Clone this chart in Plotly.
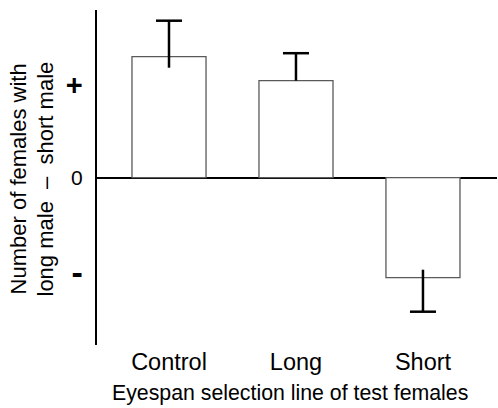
import plotly.graph_objects as go

# Data (arbitrary units)
categories = ["Control", "Long", "Short"]
values = [12.1, 9.7, -10.0]
err_outer = [3.6, 2.75, 3.4]   # error bar extent beyond bar end
err_inner = [1.1, 0.0, 0.8]    # stem extent drawn inside the bar
tick_vals = [8.97, 0, -9.93]
tick_text = ['<span style="font-size:29px"><b>+</b></span>', "0",
             '<span style="font-size:34px"><b>-</b></span>']

FONT = "Liberation Sans, Arial, sans-serif"

xs = list(range(len(categories)))

fig = go.Figure()
fig.add_trace(go.Bar(
    x=xs, y=values, width=0.583,
    marker=dict(color="white", line=dict(color="rgb(90,90,90)", width=1.3)),
    showlegend=False, hoverinfo="skip",
))

stem_x, stem_y, cap_x, cap_y = [], [], [], []
for x, v, eo, ei in zip(xs, values, err_outer, err_inner):
    s = 1 if v >= 0 else -1
    stem_x += [x, x, None]
    stem_y += [v - s * ei, v + s * eo, None]
    cap_x.append(x)
    cap_y.append(v + s * eo)

fig.add_trace(go.Scatter(
    x=stem_x, y=stem_y, mode="lines",
    line=dict(color="black", width=2.5),
    showlegend=False, hoverinfo="skip",
))
fig.add_trace(go.Scatter(
    x=cap_x, y=cap_y, mode="markers",
    marker=dict(symbol="line-ew", size=18.6, line=dict(color="black", width=2.5)),
    showlegend=False, hoverinfo="skip",
))

fig.update_layout(
    width=498, height=408,
    margin=dict(l=97, r=1, t=10, b=63),
    plot_bgcolor="white", paper_bgcolor="white",
    font=dict(family=FONT, color="black", size=21),
    xaxis=dict(
        range=[-0.567, 2.583], tickvals=xs, ticktext=categories,
        showline=False, showgrid=False, zeroline=False, ticks="",
        tickfont=dict(size=23.5), ticklabelstandoff=0,
    ),
    yaxis=dict(
        range=[-16.73, 16.77], tickvals=tick_vals, ticktext=tick_text,
        showline=True, linecolor="black", linewidth=2,
        showgrid=False, zeroline=True, zerolinecolor="black", zerolinewidth=2,
        ticks="", tickfont=dict(size=21), ticklabelstandoff=8,
    ),
    annotations=[
        dict(text="Number of females with",
             xref="paper", yref="paper", x=(18.4 - 97) / 400, y=(345 - 179) / 335,
             xanchor="center", yanchor="middle", textangle=-90,
             showarrow=False, font=dict(size=22)),
        dict(text="long male\u00a0\u00a0–\u00a0\u00a0short male",
             xref="paper", yref="paper", x=(44.5 - 97) / 400, y=(345 - 179) / 335,
             xanchor="center", yanchor="middle", textangle=-90,
             showarrow=False, font=dict(size=22)),
        dict(text="Eyespan selection line of test females",
             xref="paper", yref="paper", x=(290 - 97) / 400, y=(345 - 392.5) / 335,
             xanchor="center", yanchor="middle",
             showarrow=False, font=dict(size=21.3)),
    ],
)

fig.write_html("out.html", config={"displayModeBar": False},
               post_script="document.body.style.margin='0px';")
